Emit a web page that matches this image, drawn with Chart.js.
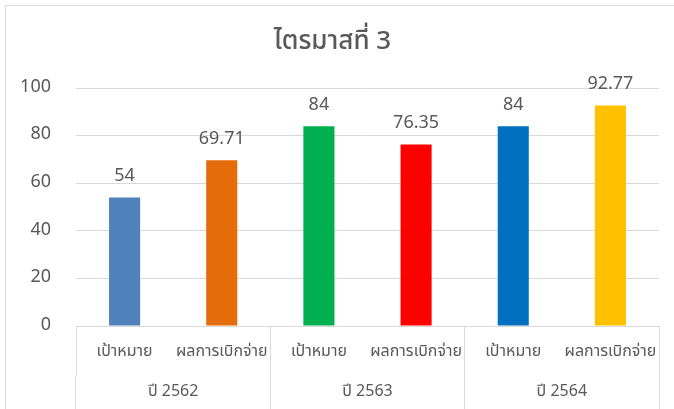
<!DOCTYPE html>
<html>
<head>
<meta charset="utf-8">
<script src="https://cdn.jsdelivr.net/npm/chart.js@4"></script>
<style>
  body { margin: 0; background: #fff; }
  #wrap { position: relative; width: 674px; height: 409px; }
  #frame { position: absolute; left: 5px; top: 5px; right: -2px; bottom: -2px; border: 1px solid #d9d9d9; }
</style>
</head>
<body>
<div id="wrap">
  <div id="frame"></div>
  <canvas id="chart" width="674" height="409"></canvas>
</div>
<script>
// Data
const subLabels = ['เป้าหมาย', 'ผลการเบิกจ่าย', 'เป้าหมาย', 'ผลการเบิกจ่าย', 'เป้าหมาย', 'ผลการเบิกจ่าย'];
const yearLabels = ['ปี 2562', 'ปี 2563', 'ปี 2564'];
const values = [54, 69.71, 84, 76.35, 84, 92.77];
const barColors = ['#4f81bd', '#e46c0a', '#00b050', '#ff0000', '#0070c0', '#ffc000'];
const yTicks = [0, 20, 40, 60, 80, 100];

const textColor = '#595959';
const gridColor = '#d9d9d9';
const fontFamily = "'Noto Sans Thai', Tahoma, 'Noto Sans', 'DejaVu Sans', sans-serif";

// value labels above each bar
const valueLabels = {
    id: 'valueLabels',
    afterDatasetsDraw(chart) {
        const ctx = chart.ctx;
        const meta = chart.getDatasetMeta(0);
        ctx.save();
        ctx.fillStyle = textColor;
        ctx.font = '18px ' + fontFamily;
        ctx.textAlign = 'center';
        ctx.textBaseline = 'bottom';
        meta.data.forEach((bar, i) => {
            ctx.fillText(String(values[i]), bar.x, bar.y - 11);
        });
        ctx.restore();
    }
};

new Chart(document.getElementById('chart'), {
    type: 'bar',
    data: {
        labels: subLabels,
        datasets: [{
            data: values,
            backgroundColor: barColors,
            barPercentage: 0.32,
            categoryPercentage: 1
        }]
    },
    options: {
        responsive: false,
        animation: false,
        layout: { padding: { left: 6, right: 15, top: 0, bottom: 0 } },
        plugins: {
            legend: { display: false },
            tooltip: { enabled: false },
            title: {
                display: true,
                text: 'ไตรมาสที่ 3',
                color: textColor,
                font: { family: fontFamily, size: 26, weight: '500' },
                padding: { top: 28, bottom: 29 }
            }
        },
        scales: {
            x: {
                position: 'bottom',
                grid: {
                    offset: true,
                    drawOnChartArea: false,
                    tickLength: 50,
                    // separators only between the year groups
                    color: ctx => (ctx.index === undefined || ctx.index % 2 === 0) ? gridColor : 'rgba(0,0,0,0)'
                },
                border: { display: false },
                ticks: {
                    color: textColor,
                    padding: -33,
                    maxRotation: 0,
                    autoSkip: false,
                    font: { family: fontFamily, size: 16 }
                },
                afterFit: s => { s.height = 50; }
            },
            x2: {
                type: 'category',
                position: 'bottom',
                labels: yearLabels,
                grid: {
                    offset: true,
                    drawOnChartArea: false,
                    tickLength: 33,
                    color: gridColor
                },
                border: { display: false },
                ticks: {
                    color: textColor,
                    padding: -26,
                    maxRotation: 0,
                    font: { family: fontFamily, size: 16 }
                },
                afterFit: s => { s.height = 33; }
            },
            y: {
                min: 0,
                max: 100,
                afterBuildTicks: s => { s.ticks = yTicks.map(v => ({ value: v })); },
                grid: { color: gridColor, drawTicks: false },
                border: { display: false },
                ticks: {
                    color: textColor,
                    padding: 25,
                    font: { family: fontFamily, size: 18 }
                },
                afterFit: s => { s.width = 70; }
            }
        }
    },
    plugins: [valueLabels]
});
</script>
</body>
</html>
